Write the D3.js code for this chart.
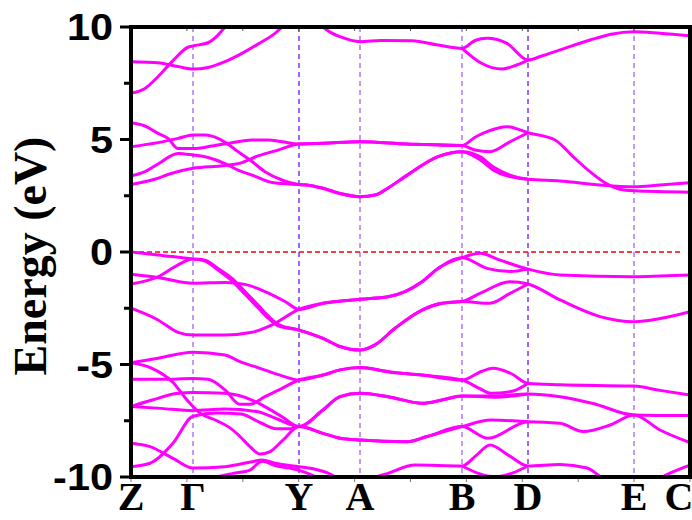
<!DOCTYPE html>
<html>
<head>
<meta charset="utf-8">
<script src="https://cdn.jsdelivr.net/npm/d3@7"></script>
<style>
  body { margin: 0; background: #fff; }
</style>
</head>
<body>
<svg id="chart" width="692" height="520"></svg>
<script>
// high symmetry points along the k path
const kLabels = ['Z', 'Γ', 'Y', 'A', 'B', 'D', 'E', 'C']
const kPos = [0, 0.62, 1.68, 2.29, 3.31, 3.97, 5.03, 5.59]
const yTicks = [-10, -5, 0, 5, 10]
const yMinor = [-7.5, -2.5, 2.5, 7.5]
const fermi = 0

// conduction bands [k, E(eV)]
const cb1 = [[0,8.46],[0.27,8.41],[0.47,8.24],[0.62,8.13],[0.77,8.2],[0.94,8.46],[1.11,8.83],[1.27,9.24],[1.44,9.72],[1.58,10.3]]
const cb2 = [[0,7.06],[0.14,7.27],[0.27,7.79],[0.41,8.46],[0.57,9.1],[0.62,9.16],[0.77,9.3],[0.87,9.64],[0.99,10.3]]
const cb3 = [[1.84,10.3],[1.92,10.0],[2.0,9.75],[2.09,9.57],[2.29,9.35],[2.5,9.4],[2.81,9.39],[3.07,9.2],[3.31,9.05],[3.44,9.4],[3.56,9.5],[3.76,9.27],[3.97,8.53],[4.1,8.7],[4.29,8.98],[4.59,9.42],[4.8,9.68],[5.03,9.79],[5.29,9.72],[5.59,9.61]]
const cb4 = [[3.31,9.05],[3.5,8.4],[3.71,8.13],[3.85,8.3],[3.97,8.53]]
const cb5 = [[0,5.75],[0.14,5.6],[0.27,5.27],[0.37,5.05],[0.47,4.6],[0.62,4.6],[0.81,4.71],[1.01,4.86],[1.21,4.98],[1.37,4.98],[1.51,4.9],[1.68,4.8],[1.92,4.83],[2.29,4.9],[2.76,4.8],[3.31,4.73],[3.44,5.1],[3.56,5.35],[3.76,5.57],[3.97,5.3],[4.24,4.98],[4.42,4.24],[4.59,3.57],[4.74,3.08],[4.89,2.79],[5.03,2.72],[5.59,2.66]]
const cb6 = [[0,3.0],[0.21,3.2],[0.41,3.5],[0.62,3.72],[0.94,3.84],[1.11,3.97],[1.27,4.27],[1.47,4.53],[1.68,4.8],[1.92,4.83],[2.29,4.9],[2.76,4.8],[3.31,4.73],[3.44,4.53],[3.59,4.46],[3.79,4.9],[3.97,5.3]]
const cb7 = [[0,4.68],[0.27,4.86],[0.47,5.05],[0.62,5.2],[0.74,5.2],[0.87,5.05],[0.97,4.79],[1.07,4.46],[1.21,4.02],[1.34,3.57],[1.51,3.2],[1.68,3.0],[1.76,2.98],[1.92,2.83],[2.09,2.6],[2.29,2.46],[2.44,2.53],[2.57,2.84],[2.74,3.35],[3.07,4.24],[3.31,4.46],[3.49,4.24],[3.62,3.79],[3.79,3.42],[3.97,3.23],[4.29,3.16],[4.69,2.98],[5.03,2.9],[5.29,2.98],[5.59,3.08]]
const cb8 = [[0,3.38],[0.14,3.57],[0.27,3.91],[0.47,4.38],[0.62,4.31],[0.77,4.2],[0.94,3.93],[1.07,3.64],[1.21,3.42],[1.41,3.09],[1.68,3.0],[1.76,2.98],[1.92,2.83],[2.09,2.6],[2.29,2.46],[2.44,2.53],[2.57,2.84],[2.74,3.35],[3.07,4.24],[3.31,4.46],[3.49,4.1],[3.62,3.65],[3.79,3.35],[3.97,3.23]]

// valence bands
const vb1 = [[0,0],[0.27,-0.13],[0.62,-0.31],[0.74,-0.36],[0.87,-0.73],[1.01,-1.17],[1.14,-1.76],[1.27,-2.36],[1.37,-2.83],[1.47,-3.21],[1.68,-3.47],[1.92,-3.84],[2.09,-4.2],[2.29,-4.36],[2.44,-4.13],[2.64,-3.39],[2.91,-2.58],[3.11,-2.28],[3.31,-2.2],[3.49,-1.84],[3.79,-1.32],[3.97,-1.42],[4.29,-2.13],[4.69,-2.87],[5.03,-3.1],[5.29,-2.96],[5.59,-2.65]]
const vb2 = [[0,-0.99],[0.27,-1.13],[0.62,-1.39],[0.94,-1.35],[1.14,-1.44],[1.34,-1.76],[1.54,-2.2],[1.68,-2.55],[1.92,-2.28],[2.29,-2.1],[2.57,-1.99],[2.74,-1.76],[2.91,-1.32],[3.07,-0.73],[3.31,-0.25],[3.49,-0.06],[3.69,-0.36],[3.97,-0.76],[4.29,-1.02],[5.03,-1.1],[5.29,-1.07],[5.59,-1.02]]
const vb3 = [[0,-1.42],[0.27,-1.1],[0.44,-0.65],[0.62,-0.31],[0.74,-0.4],[0.87,-0.8],[1.01,-1.28],[1.14,-1.88],[1.27,-2.48],[1.37,-2.93],[1.47,-3.28],[1.68,-3.47],[1.92,-3.84],[2.09,-4.2],[2.29,-4.36],[2.44,-4.13],[2.64,-3.39],[2.91,-2.58],[3.11,-2.28],[3.31,-2.2],[3.59,-2.28],[3.79,-1.84],[3.97,-1.42]]
const vb4 = [[0,-2.5],[0.27,-3.02],[0.47,-3.57],[0.62,-3.69],[0.94,-3.69],[1.21,-3.57],[1.41,-3.24],[1.68,-2.55],[1.92,-2.28],[2.29,-2.1],[2.57,-1.99],[2.74,-1.76],[2.91,-1.32],[3.07,-0.73],[3.31,-0.25],[3.56,-0.73],[3.79,-0.87],[3.97,-0.76]]
const vb5 = [[0,-4.92],[0.27,-4.72],[0.62,-4.46],[0.94,-4.58],[1.09,-4.87],[1.29,-5.17],[1.49,-5.47],[1.68,-5.69],[1.92,-5.47],[2.09,-5.24],[2.29,-5.13],[2.57,-5.32],[2.91,-5.47],[3.31,-5.69],[3.51,-5.3],[3.62,-5.17],[3.8,-5.4],[3.97,-5.84],[4.29,-5.9],[5.03,-5.96],[5.29,-6.15],[5.59,-6.36]]
const vb6 = [[0,-5.66],[0.33,-5.66],[0.61,-5.62],[0.77,-5.66],[0.94,-6.13],[1.09,-6.77],[1.19,-6.77],[1.34,-6.43],[1.51,-6.06],[1.68,-5.69],[1.92,-5.47],[2.09,-5.24],[2.29,-5.13],[2.57,-5.32],[2.91,-5.47],[3.31,-5.69],[3.5,-6.1],[3.6,-6.28],[3.8,-6.2],[3.97,-5.84]]
const vb7 = [[0,-4.92],[0.2,-5.15],[0.42,-5.8],[0.56,-6.58],[0.69,-7.16],[0.86,-7.5],[1.0,-7.85],[1.09,-8.2],[1.19,-8.65],[1.29,-8.98],[1.39,-8.87],[1.52,-8.36],[1.68,-7.76],[1.92,-8.06],[2.09,-8.28],[2.29,-8.36],[2.76,-8.43],[2.96,-8.2],[3.31,-7.76],[3.57,-8.28],[3.97,-7.54],[4.29,-7.61],[4.52,-7.98],[4.79,-7.69],[5.03,-7.24],[5.29,-7.91],[5.59,-8.47]]
const vb8 = [[0,-6.87],[0.21,-6.58],[0.47,-6.28],[0.62,-6.24],[0.94,-6.28],[1.21,-6.58],[1.37,-6.95],[1.51,-7.32],[1.68,-7.76],[1.92,-7.02],[2.09,-6.43],[2.29,-6.28],[2.57,-6.43],[2.91,-6.72],[3.11,-6.58],[3.31,-6.4],[3.64,-6.4],[3.97,-6.31],[4.29,-6.43],[4.62,-6.73],[5.03,-7.24],[5.59,-7.27]]
const vb9 = [[0,-6.87],[0.3,-6.95],[0.62,-7.05],[0.94,-6.98],[1.27,-7.1],[1.45,-7.4],[1.68,-7.76],[1.92,-7.02],[2.09,-6.43],[2.29,-6.28],[2.57,-6.43],[2.91,-6.72],[3.11,-6.58],[3.31,-6.4],[3.64,-6.45],[3.97,-6.31]]
const vb10 = [[0,-9.54],[0.19,-9.39],[0.42,-8.5],[0.62,-7.3],[0.86,-7.16],[1.1,-7.2],[1.3,-7.6],[1.45,-7.85],[1.6,-7.85],[1.68,-7.76],[1.92,-8.06],[2.09,-8.28],[2.29,-8.36],[2.76,-8.43],[2.96,-8.2],[3.31,-7.76],[3.6,-7.47],[3.97,-7.54]]
const vb11 = [[0,-8.5],[0.19,-8.65],[0.42,-9.17],[0.62,-9.6],[0.94,-9.54],[1.21,-9.32],[1.31,-9.24],[1.44,-9.39],[1.68,-9.54],[1.81,-9.62],[2.01,-9.91],[2.14,-10.3]]
const vb12 = [[0,-10.05],[0.62,-10.05],[0.9,-9.95],[1.02,-9.84],[1.19,-9.69],[1.31,-9.3],[1.45,-9.5],[1.68,-9.7],[1.85,-10.0],[1.95,-10.3]]
const vb13 = [[2.4,-10.3],[2.44,-10.05],[2.57,-9.84],[2.84,-9.47],[3.31,-9.51],[3.45,-9.05],[3.59,-8.58],[3.78,-9.05],[3.97,-9.51],[4.29,-9.44],[4.56,-9.6],[4.71,-10.04],[4.8,-10.3]]
const vb14 = [[3.31,-9.51],[3.64,-9.99],[3.97,-9.51]]
const vb15 = [[5.2,-10.3],[5.29,-10.05],[5.59,-9.47]]

const bands = [cb1, cb2, cb3, cb4, cb5, cb6, cb7, cb8,
  vb1, vb2, vb3, vb4, vb5, vb6, vb7, vb8, vb9, vb10, vb11, vb12, vb13, vb14, vb15]

const width = 692
const height = 520
const plot = { left: 131, right: 690, top: 27, bottom: 477 }

const x = d3.scaleLinear().domain([0, 5.59]).range([plot.left, plot.right])
const y = d3.scaleLinear().domain([-10, 10]).range([plot.bottom, plot.top])

const svg = d3.select('#chart')

svg.append('defs').append('clipPath').attr('id', 'clip')
  .append('rect')
  .attr('x', plot.left).attr('y', plot.top)
  .attr('width', plot.right - plot.left).attr('height', plot.bottom - plot.top)

// vertical dashed lines at symmetry points (darker ones at Y and D)
svg.append('g')
  .selectAll('line')
  .data(kLabels.map((l, i) => ({ l, k: kPos[i] })).filter(d => d.k > 0 && d.k < 5.59))
  .enter()
  .append('line')
  .attr('x1', d => x(d.k)).attr('x2', d => x(d.k))
  .attr('y1', y(10)).attr('y2', y(-10))
  .attr('stroke', d => (d.l === 'Y' || d.l === 'D') ? '#7010f0' : '#a060f8')
  .attr('stroke-width', 1.3)
  .attr('stroke-dasharray', '5,4')

// fermi level
svg.append('line')
  .attr('x1', x(0)).attr('x2', x(5.52))
  .attr('y1', y(fermi)).attr('y2', y(fermi))
  .attr('stroke', '#ff0000')
  .attr('stroke-width', 1.3)
  .attr('stroke-dasharray', '5,3')

// bands
const line = d3.line()
  .x(d => x(d[0]))
  .y(d => y(d[1]))
  .curve(d3.curveMonotoneX)

svg.append('g')
  .attr('clip-path', 'url(#clip)')
  .selectAll('path')
  .data(bands)
  .enter()
  .append('path')
  .attr('d', line)
  .attr('fill', 'none')
  .attr('stroke', '#ff00ff')
  .attr('stroke-width', 3)
  .attr('stroke-linejoin', 'round')

// thin x ticks (origin style) on bottom and top
const xt = d3.range(0, 11).map(i => plot.left + i * (plot.right - plot.left) / 10)
svg.append('g').selectAll('line').data(xt).enter().append('line')
  .attr('x1', d => d).attr('x2', d => d)
  .attr('y1', plot.bottom).attr('y2', plot.bottom + 5)
  .attr('stroke', '#777').attr('stroke-width', 1)
svg.append('g').selectAll('line').data(xt).enter().append('line')
  .attr('x1', d => d).attr('x2', d => d)
  .attr('y1', plot.top).attr('y2', plot.top + 4)
  .attr('stroke', '#555').attr('stroke-width', 1)

// frame
svg.append('rect')
  .attr('x', plot.left).attr('y', plot.top)
  .attr('width', plot.right - plot.left).attr('height', plot.bottom - plot.top)
  .attr('fill', 'none')
  .attr('stroke', '#000')
  .attr('stroke-width', 4)

// y ticks
svg.append('g').selectAll('line').data(yTicks).enter().append('line')
  .attr('x1', plot.left - 11).attr('x2', plot.left)
  .attr('y1', d => y(d)).attr('y2', d => y(d))
  .attr('stroke', '#000').attr('stroke-width', 3)
svg.append('g').selectAll('line').data(yMinor).enter().append('line')
  .attr('x1', plot.left - 7).attr('x2', plot.left)
  .attr('y1', d => y(d)).attr('y2', d => y(d))
  .attr('stroke', '#000').attr('stroke-width', 3)

svg.append('g').selectAll('text').data(yTicks).enter().append('text')
  .attr('transform', d => `translate(113,${y(d) + 13}) scale(1.12,1)`)
  .attr('text-anchor', 'end')
  .attr('font-family', 'Liberation Sans, Arial, sans-serif')
  .attr('font-weight', 'bold')
  .attr('font-size', 37)
  .text(d => d)

// k labels
svg.append('g').selectAll('text').data(kLabels).enter().append('text')
  .attr('x', (d, i) => Math.min(x(kPos[i]), width - 13))
  .attr('y', 510)
  .attr('text-anchor', 'middle')
  .attr('font-family', 'Liberation Serif, Times New Roman, serif')
  .attr('font-weight', 'bold')
  .attr('font-size', 40)
  .text(d => d)

// axis title
svg.append('text')
  .attr('transform', 'translate(46,256) rotate(-90)')
  .attr('text-anchor', 'middle')
  .attr('font-family', 'Liberation Serif, Times New Roman, serif')
  .attr('font-weight', 'bold')
  .attr('font-size', 46)
  .text('Energy (eV)')
</script>
</body>
</html>
